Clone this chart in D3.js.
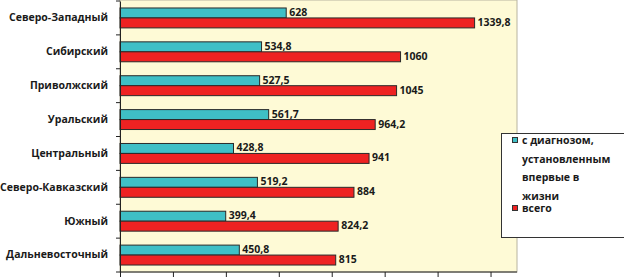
<!DOCTYPE html>
<html>
<head>
<meta charset="utf-8">
<script src="https://cdn.jsdelivr.net/npm/d3@7"></script>
<style>
  body { margin: 0; background: #fff; }
  svg { display: block; font-family: "Open Sans", sans-serif; font-weight: 700; }
</style>
</head>
<body>
<div id="chart"></div>
<script>
// Regions, top to bottom
const regions = ["Северо-Западный", "Сибирский", "Приволжский", "Уральский",
    "Центральный", "Северо-Кавказский", "Южный", "Дальневосточный"];
// First diagnosed in life
const firstDiag = [628, 534.8, 527.5, 561.7, 428.8, 519.2, 399.4, 450.8];
// Total
const total = [1339.8, 1060, 1045, 964.2, 941, 884, 824.2, 815];
const seriesKeys = ["first", "total"];
const seriesNames = [["с диагнозом,", "установленным", "впервые в", "жизни"], ["всего"]];
const xTicks = [0, 200, 400, 600, 800, 1000, 1200, 1400];
const xMax = 1500;

const colors = { first: "#3fbfc6", total: "#ee2222" };

const width = 624, height = 277;
const plot = { left: 120, right: 517, top: 1, bottom: 272 };

const svg = d3.select("#chart").append("svg")
    .attr("width", width)
    .attr("height", height);

// Plot background
svg.append("rect")
    .attr("x", plot.left)
    .attr("y", plot.top - 1)
    .attr("width", plot.right - plot.left)
    .attr("height", plot.bottom - plot.top + 1)
    .attr("fill", "#fefad6")
    .attr("stroke", "#b8b4a0")
    .attr("stroke-width", 1);

const xScale = d3.scaleLinear()
    .domain([0, xMax])
    .range([plot.left, plot.right]);

const yScale = d3.scaleBand()
    .domain(regions)
    .range([plot.top, plot.bottom]);

const inner = d3.scaleBand()
    .domain(seriesKeys)
    .range([0, yScale.bandwidth()])
    .paddingOuter(0.7);

const dataArr = regions.map((r, i) => ({ region: r, first: firstDiag[i], total: total[i] }));

const fmt = (v) => String(v).replace(".", ",");

// Bars
const groups = svg.selectAll("g.region")
    .data(dataArr)
    .join("g")
        .attr("class", "region")
        .attr("transform", (d) => `translate(0,${yScale(d.region)})`);

seriesKeys.forEach(key => {
    groups.append("rect")
        .attr("x", xScale(0))
        .attr("y", inner(key))
        .attr("width", (d) => xScale(d[key]) - xScale(0))
        .attr("height", inner.bandwidth())
        .attr("fill", colors[key])
        .attr("stroke", "#2a2a2a")
        .attr("stroke-width", 1);

    groups.append("text")
        .text((d) => fmt(d[key]))
        .attr("x", (d) => xScale(d[key]) + 3)
        .attr("y", inner(key) + inner.bandwidth() / 2 - 1)
        .attr("dominant-baseline", "central")
        .style("font-size", "10.5px")
        .attr("fill", "#1a1a1a");
});

// Left axis with category labels
const yAxis = svg.append("g")
    .attr("transform", `translate(${plot.left},0)`)
    .call(d3.axisLeft(yScale).tickSize(0).tickPadding(12));
yAxis.selectAll("text")
    .style("font-size", "10.5px")
    .style("font-family", "'Open Sans', sans-serif")
    .style("font-weight", 700)
    .attr("fill", "#1a1a1a");
yAxis.select(".domain").attr("stroke", "#222");

// Tick marks at category boundaries
svg.append("g")
    .selectAll("line")
    .data(regions.concat([null]))
    .join("line")
        .attr("x1", plot.left - 4)
        .attr("x2", plot.left)
        .attr("y1", (d) => d === null ? plot.bottom : yScale(d))
        .attr("y2", (d) => d === null ? plot.bottom : yScale(d))
        .attr("stroke", "#222");

// Bottom axis
const xAxis = svg.append("g")
    .attr("transform", `translate(0,${plot.bottom})`)
    .call(d3.axisBottom(xScale).tickValues(xTicks).tickSize(5).tickFormat(""));
xAxis.selectAll("line").attr("stroke", "#222");
xAxis.select(".domain").attr("stroke", "#222").attr("d", `M${plot.left},0H${plot.right}`);

// Legend
const legend = svg.append("g");
legend.append("rect")
    .attr("x", 501.5)
    .attr("y", 133.5)
    .attr("width", 130)
    .attr("height", 104)
    .attr("fill", "#fff")
    .attr("stroke", "#333");

const legendLines = [
    { key: "first", lines: seriesNames[0], y: 144, gap: 18.5 },
    { key: "total", lines: seriesNames[1], y: 212, gap: 0 }
];
legendLines.forEach(item => {
    legend.append("rect")
        .attr("x", 512.5)
        .attr("y", item.y - 6.5)
        .attr("width", 5)
        .attr("height", 5)
        .attr("fill", colors[item.key])
        .attr("stroke", "#333");
    item.lines.forEach((line, i) => {
        legend.append("text")
            .text(line)
            .attr("x", 522)
            .attr("y", item.y + i * item.gap)
            .style("font-size", "10.5px")
            .attr("fill", "#1a1a1a");
    });
});
</script>
</body>
</html>
